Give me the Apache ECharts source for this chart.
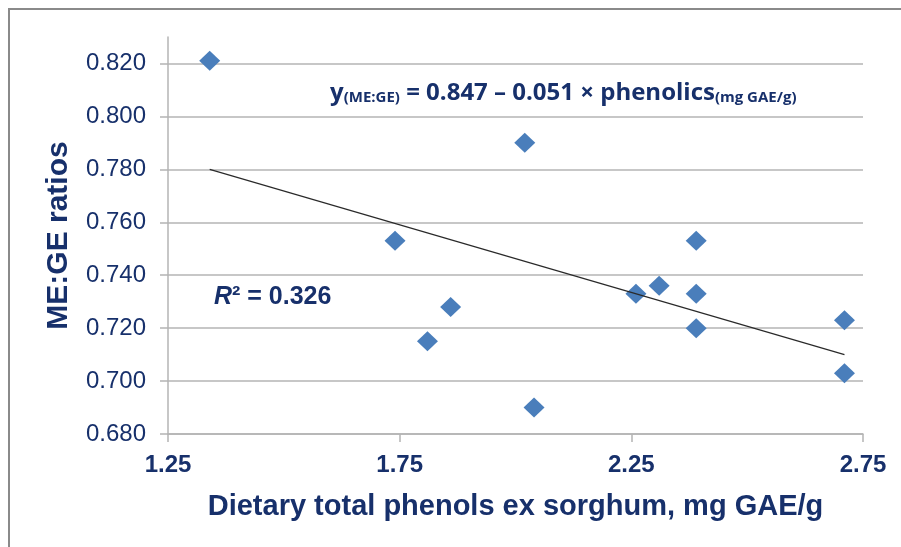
<!DOCTYPE html>
<html>
<head>
<meta charset="utf-8">
<script src="https://cdn.jsdelivr.net/npm/echarts@6/dist/echarts.min.js"></script>
<style>
html, body { margin: 0; padding: 0; background: #fff; }
#chart { width: 901px; height: 547px; }
</style>
</head>
<body>
<div id="chart"></div>
<script>
// readings
var phenols = [1.34, 1.74, 1.81, 1.86, 2.02, 2.04, 2.26, 2.31, 2.39, 2.39, 2.39, 2.71, 2.71];
var meGe = [0.821, 0.753, 0.715, 0.728, 0.790, 0.690, 0.733, 0.736, 0.753, 0.733, 0.720, 0.723, 0.703];
// fitted line end points
var trendX = [1.34, 2.71];
var trendY = [0.780, 0.710];
// tick labels
var xTicks = [1.25, 1.75, 2.25, 2.75];
var yTicks = [0.680, 0.700, 0.720, 0.740, 0.760, 0.780, 0.800, 0.820];
var yTop = 0.830;

var navy = '#17306b';
var gridGray = '#b4b4b4';

var chart = echarts.init(document.getElementById('chart'));

var gTop = 37, gBottom = 113;
var gHeight = 547 - gTop - gBottom;
var yMin = yTicks[0], yMaxLab = yTicks[yTicks.length - 1];
// second grid only carries the labelled ticks, lined up with the first
var labTop = gTop + gHeight * (yTop - yMaxLab) / (yTop - yMin);

chart.setOption({
  animation: false,
  grid: [
    { left: 168, right: 38, top: gTop, bottom: gBottom },
    { left: 168, right: 38, top: labTop, bottom: gBottom }
  ],
  xAxis: [
    {
      gridIndex: 0,
      type: 'value',
      min: xTicks[0],
      max: xTicks[xTicks.length - 1],
      interval: 0.5,
      name: 'Dietary total phenols ex sorghum, mg GAE/g',
      nameLocation: 'middle',
      nameGap: 58,
      nameTextStyle: { color: navy, fontFamily: 'Liberation Sans, Arial', fontWeight: 'bold', fontSize: 29 },
      axisLine: { lineStyle: { color: gridGray, width: 1.5 } },
      axisTick: { show: true, length: 8, lineStyle: { color: gridGray, width: 1.5 } },
      axisLabel: {
        color: navy, fontFamily: 'Liberation Sans, Arial', fontWeight: 'bold', fontSize: 24, margin: 19,
        formatter: function (v) { return v.toFixed(2); }
      },
      splitLine: { show: false }
    },
    { gridIndex: 1, type: 'value', min: xTicks[0], max: xTicks[xTicks.length - 1], show: false }
  ],
  yAxis: [
    {
      gridIndex: 0,
      type: 'value',
      min: yMin,
      max: yTop,
      name: 'ME:GE ratios',
      nameLocation: 'middle',
      nameGap: 94,
      nameTextStyle: { color: navy, fontFamily: 'Liberation Sans, Arial', fontWeight: 'bold', fontSize: 30 },
      axisLine: { show: true, lineStyle: { color: gridGray, width: 1.5 } },
      axisTick: { show: false },
      axisLabel: { show: false },
      splitLine: { show: false }
    },
    {
      gridIndex: 1,
      type: 'value',
      min: yMin,
      max: yMaxLab,
      interval: 0.02,
      axisLine: { show: false },
      axisTick: { show: true, length: 8, lineStyle: { color: gridGray, width: 1.5 } },
      axisLabel: {
        color: navy, fontFamily: 'Liberation Sans, Arial', fontSize: 24, margin: 22,
        formatter: function (v) { return v.toFixed(3); }
      },
      splitLine: { show: true, lineStyle: { color: gridGray, width: 1.5 } }
    }
  ],
  graphic: [
    {
      type: 'rect',
      silent: true,
      shape: { x: 9, y: 9, width: 900, height: 545 },
      style: { fill: 'none', stroke: '#8a8a8a', lineWidth: 2 }
    },
    {
      type: 'text',
      left: 330,
      top: 81,
      style: {
        text: '{m|y}{s|(ME:GE)}{m| = 0.847 – 0.051 × phenolics}{s|(mg GAE/g)}',
        rich: {
          m: { fontFamily: 'Open Sans', fontWeight: 'bold', fontSize: 24, lineHeight: 30, fill: navy, verticalAlign: 'bottom' },
          s: { fontFamily: 'Open Sans', fontWeight: 'bold', fontSize: 15, lineHeight: 18, fill: navy, verticalAlign: 'bottom' }
        }
      }
    },
    {
      type: 'text',
      left: 214,
      top: 285,
      style: {
        text: '{i|R}{n|² = 0.326}',
        rich: {
          i: { fontFamily: 'Liberation Sans, Arial', fontWeight: 'bold', fontStyle: 'italic', fontSize: 25, lineHeight: 30, fill: navy },
          n: { fontFamily: 'Liberation Sans, Arial', fontWeight: 'bold', fontSize: 25, lineHeight: 30, fill: navy }
        }
      }
    }
  ],
  series: [
    {
      type: 'scatter',
      xAxisIndex: 0,
      yAxisIndex: 0,
      symbol: 'diamond',
      symbolSize: [21, 20],
      itemStyle: { color: '#4a7ebb', opacity: 1 },
      data: phenols.map(function (x, i) { return [x, meGe[i]]; }),
      z: 2
    },
    {
      type: 'line',
      xAxisIndex: 0,
      yAxisIndex: 0,
      showSymbol: false,
      symbol: 'none',
      lineStyle: { color: '#2a2a2a', width: 1.2 },
      data: trendX.map(function (x, i) { return [x, trendY[i]]; }),
      z: 3
    }
  ]
});
</script>
</body>
</html>
